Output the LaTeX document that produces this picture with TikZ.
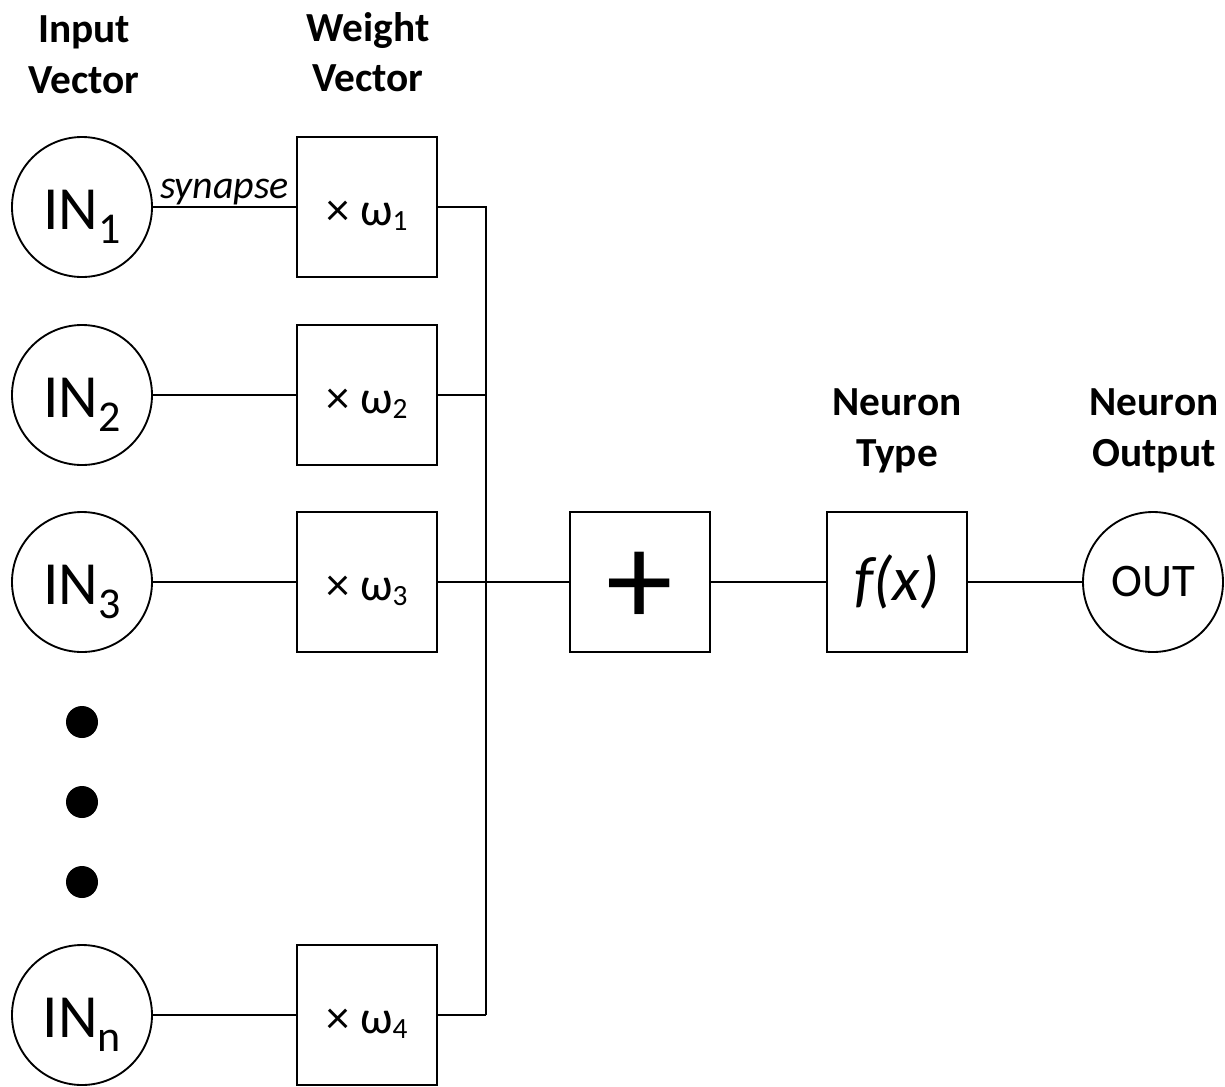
\documentclass[tikz,border=0pt]{standalone}
\usepackage{fontspec}
\setmainfont{Carlito}
% lowered indices for the input names and the weights
\newcommand\insub[1]{\raisebox{-10pt}{\fontsize{33}{33}\selectfont #1}}
\newcommand\wsub[1]{\raisebox{-4pt}{\fontsize{22}{22}\selectfont #1}}
\begin{document}
\begin{tikzpicture}[x=0.75pt,y=-0.75pt,
  line width=1.4pt,
  neuron/.style={draw,circle,minimum size=105pt,inner sep=0pt,
    text height=34pt,text depth=0pt,font=\fontsize{46}{50}\selectfont},
  outneuron/.style={draw,circle,minimum size=105pt,inner sep=0pt,font=\fontsize{35}{40}\selectfont},
  wbox/.style={draw,minimum width=105pt,minimum height=105pt,inner sep=0pt,
    text height=28pt,text depth=1pt,font=\fontsize{35}{38}\selectfont},
  opbox/.style={draw,minimum width=105pt,minimum height=105pt,inner sep=0pt},
  heading/.style={font=\bfseries\fontsize{31}{38}\selectfont,align=center},
  dotmark/.style={circle,fill,minimum size=24pt,inner sep=0pt},
  wire/.style={line width=1.4pt}]
\useasboundingbox (0,0) rectangle (1225,1086);

% headings
\node[heading] (hin) at (84,55) {Input\\Vector};
\node[heading] (hw) at (368,52) {Weight\\Vector};
\node[heading] (htype) at (897,431) {Neuron\\Type};
\node[heading] (hout) at (1154,431) {Neuron\\Output};

% inputs
\node[neuron] (in1) at (82,207) {IN\insub{1}};
\node[neuron] (in2) at (82,395) {IN\insub{2}};
\node[neuron] (in3) at (82,582) {IN\insub{3}};
\node[neuron] (inn) at (82,1015) {IN\insub{n}};

% ellipsis dots
\node[dotmark] (d1) at (82,722) {};
\node[dotmark] (d2) at (82,802) {};
\node[dotmark] (d3) at (82,882) {};

% weights
\node[wbox] (w1) at (367,207) {× ω\wsub{1}};
\node[wbox] (w2) at (367,395) {× ω\wsub{2}};
\node[wbox] (w3) at (367,582) {× ω\wsub{3}};
\node[wbox] (w4) at (367,1015) {× ω\wsub{4}};

% summation, activation, output
\node[opbox] (sum) at (640,582) {};
\node[font=\fontsize{100}{100}\selectfont] (plus) at (640,589) {+};
\node[opbox,font=\itshape\fontsize{47}{50}\selectfont] (fx) at (897,582) {f(x)};
\node[outneuron] (out) at (1153,582) {OUT};

% bus collecting the weighted inputs
\coordinate (bb) at (486,1015);

\draw[wire] (in1) -- node[above,font=\itshape\fontsize{30}{32}\selectfont,inner sep=1pt] (syn) {synapse} (w1);
\draw[wire] (in2) -- (w2);
\draw[wire] (in3) -- (w3);
\draw[wire] (inn) -- (w4);
\draw[wire] (w1) -| (bb);
\draw[wire] (w2) -- (w2 -| bb);
\draw[wire] (w4) -- (bb);
\draw[wire] (w3) -- (sum);
\draw[wire] (sum) -- (fx);
\draw[wire] (fx) -- (out);
\end{tikzpicture}
\end{document}
